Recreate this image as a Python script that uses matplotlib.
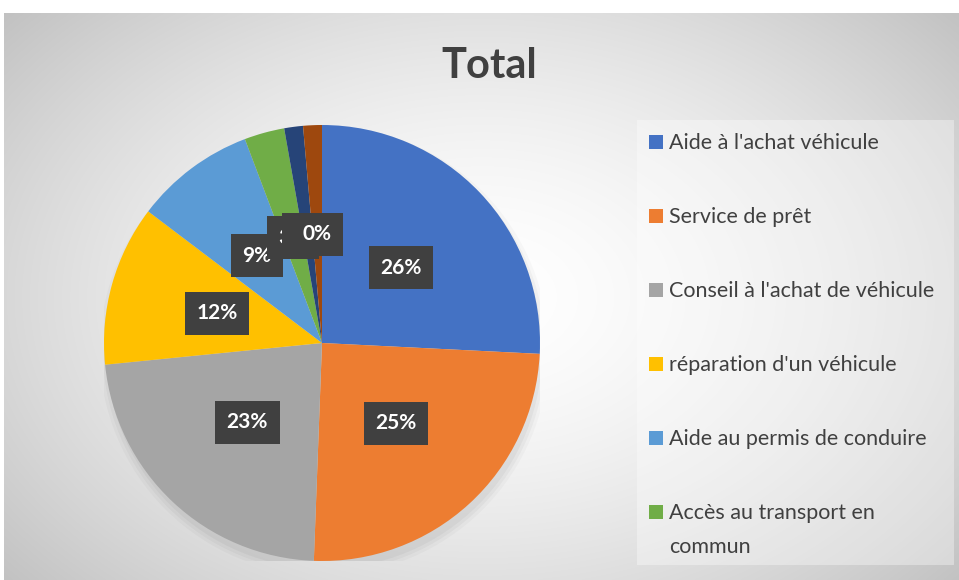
import numpy as np
import matplotlib
matplotlib.use("Agg")
import matplotlib.pyplot as plt
from matplotlib.patches import Rectangle

categories = ["Aide à l'achat véhicule", "Service de prêt", "Conseil à l'achat de véhicule",
              "réparation d'un véhicule", "Aide au permis de conduire",
              "Accès au transport en commun", "Autre", "(vide)"]
values = [26, 25, 23, 12, 9, 3, 1.4, 1.4]
pct_labels = ["26%", "25%", "23%", "12%", "9%", "3%", "1%", "0%"]
legend_labels = ["Aide à l'achat véhicule", "Service de prêt", "Conseil à l'achat de véhicule",
                 "réparation d'un véhicule", "Aide au permis de conduire",
                 "Accès au transport en\ncommun"]
colors = ["#4472C4", "#ED7D31", "#A5A5A5", "#FFC000", "#5B9BD5", "#70AD47", "#264478", "#9E480E"]

FONT = ["Lato", "DejaVu Sans"]
W, H = 959, 580
fig = plt.figure(figsize=(W / 100, H / 100), dpi=100)
fig.patch.set_facecolor("white")

# background with radial gradient
bg = fig.add_axes([4 / W, 0, (W - 4) / W, (H - 13) / H])
bg.set_axis_off()
yy, xx = np.mgrid[0:300, 0:500]
cx, cy = 250, 150
d = np.sqrt(((xx - cx) / 330.0) ** 2 + ((yy - cy) / 230.0) ** 2)
val = 1.0 - 0.24 * np.clip(d, 0, 1) ** 1.6
img = np.dstack([val, val, val])
bg.imshow(img, aspect="auto", extent=[0, 1, 0, 1], interpolation="bilinear")
bg.set_xlim(0, 1)
bg.set_ylim(0, 1)

# legend background box
lx0, lx1, ly0, ly1 = 637, 954, 120, 565
bg.add_patch(Rectangle(((lx0 - 4) / (W - 4), (580 - ly1) / (H - 13)),
                       (lx1 - lx0) / (W - 4), (ly1 - ly0) / (H - 13),
                       transform=bg.transAxes, facecolor="white", alpha=0.35, edgecolor="none"))

# title
fig.text(489 / W, 1 - 66 / H, "Total", ha="center", va="center", fontsize=30,
         fontweight="bold", color="#404040", family=FONT)

# pie
pcx, pcy, R = 322, 343, 218
ax = fig.add_axes([(pcx - R) / W, (H - pcy - R) / H, 2 * R / W, 2 * R / H])
ax.set_axis_off()
# soft shadow below the pie
for r, a in [(1.03, 0.025), (1.015, 0.03), (1.0, 0.035)]:
    ax.add_patch(plt.Circle((0.01, -0.035), r, color="black", alpha=a, lw=0, zorder=0))
wedges, _ = ax.pie(values, colors=colors, startangle=90, counterclock=False, radius=1,
                   wedgeprops=dict(linewidth=0))
ax.set_xlim(-1, 1)
ax.set_ylim(-1, 1)
ax.set_aspect("equal")

for w, lab in zip(wedges, pct_labels):
    ang = np.deg2rad((w.theta1 + w.theta2) / 2)
    x, y = 0.5 * np.cos(ang), 0.5 * np.sin(ang)
    ax.text(x, y, lab, ha="center", va="center", fontsize=15, fontweight="bold",
            color="white", family=FONT, zorder=5,
            bbox=dict(boxstyle="square,pad=0.55", facecolor="#404040", edgecolor="none"))

# legend drawn manually (first six entries visible, as in the reference)
ys = [142, 216, 290, 364, 438, 512]
for w, lab, yc in zip(wedges[:6], legend_labels, ys):
    fig.patches.append(Rectangle((649 / W, 1 - (yc + 7) / H), 14 / W, 14 / H,
                                 transform=fig.transFigure, facecolor=w.get_facecolor(),
                                 edgecolor="none", figure=fig))
    fig.text(669 / W, 1 - (yc - 9) / H, lab, ha="left", va="top",
             fontsize=15.5, color="#404040", family=FONT, linespacing=1.85)

fig.savefig("out.png", dpi=100, facecolor="white")
